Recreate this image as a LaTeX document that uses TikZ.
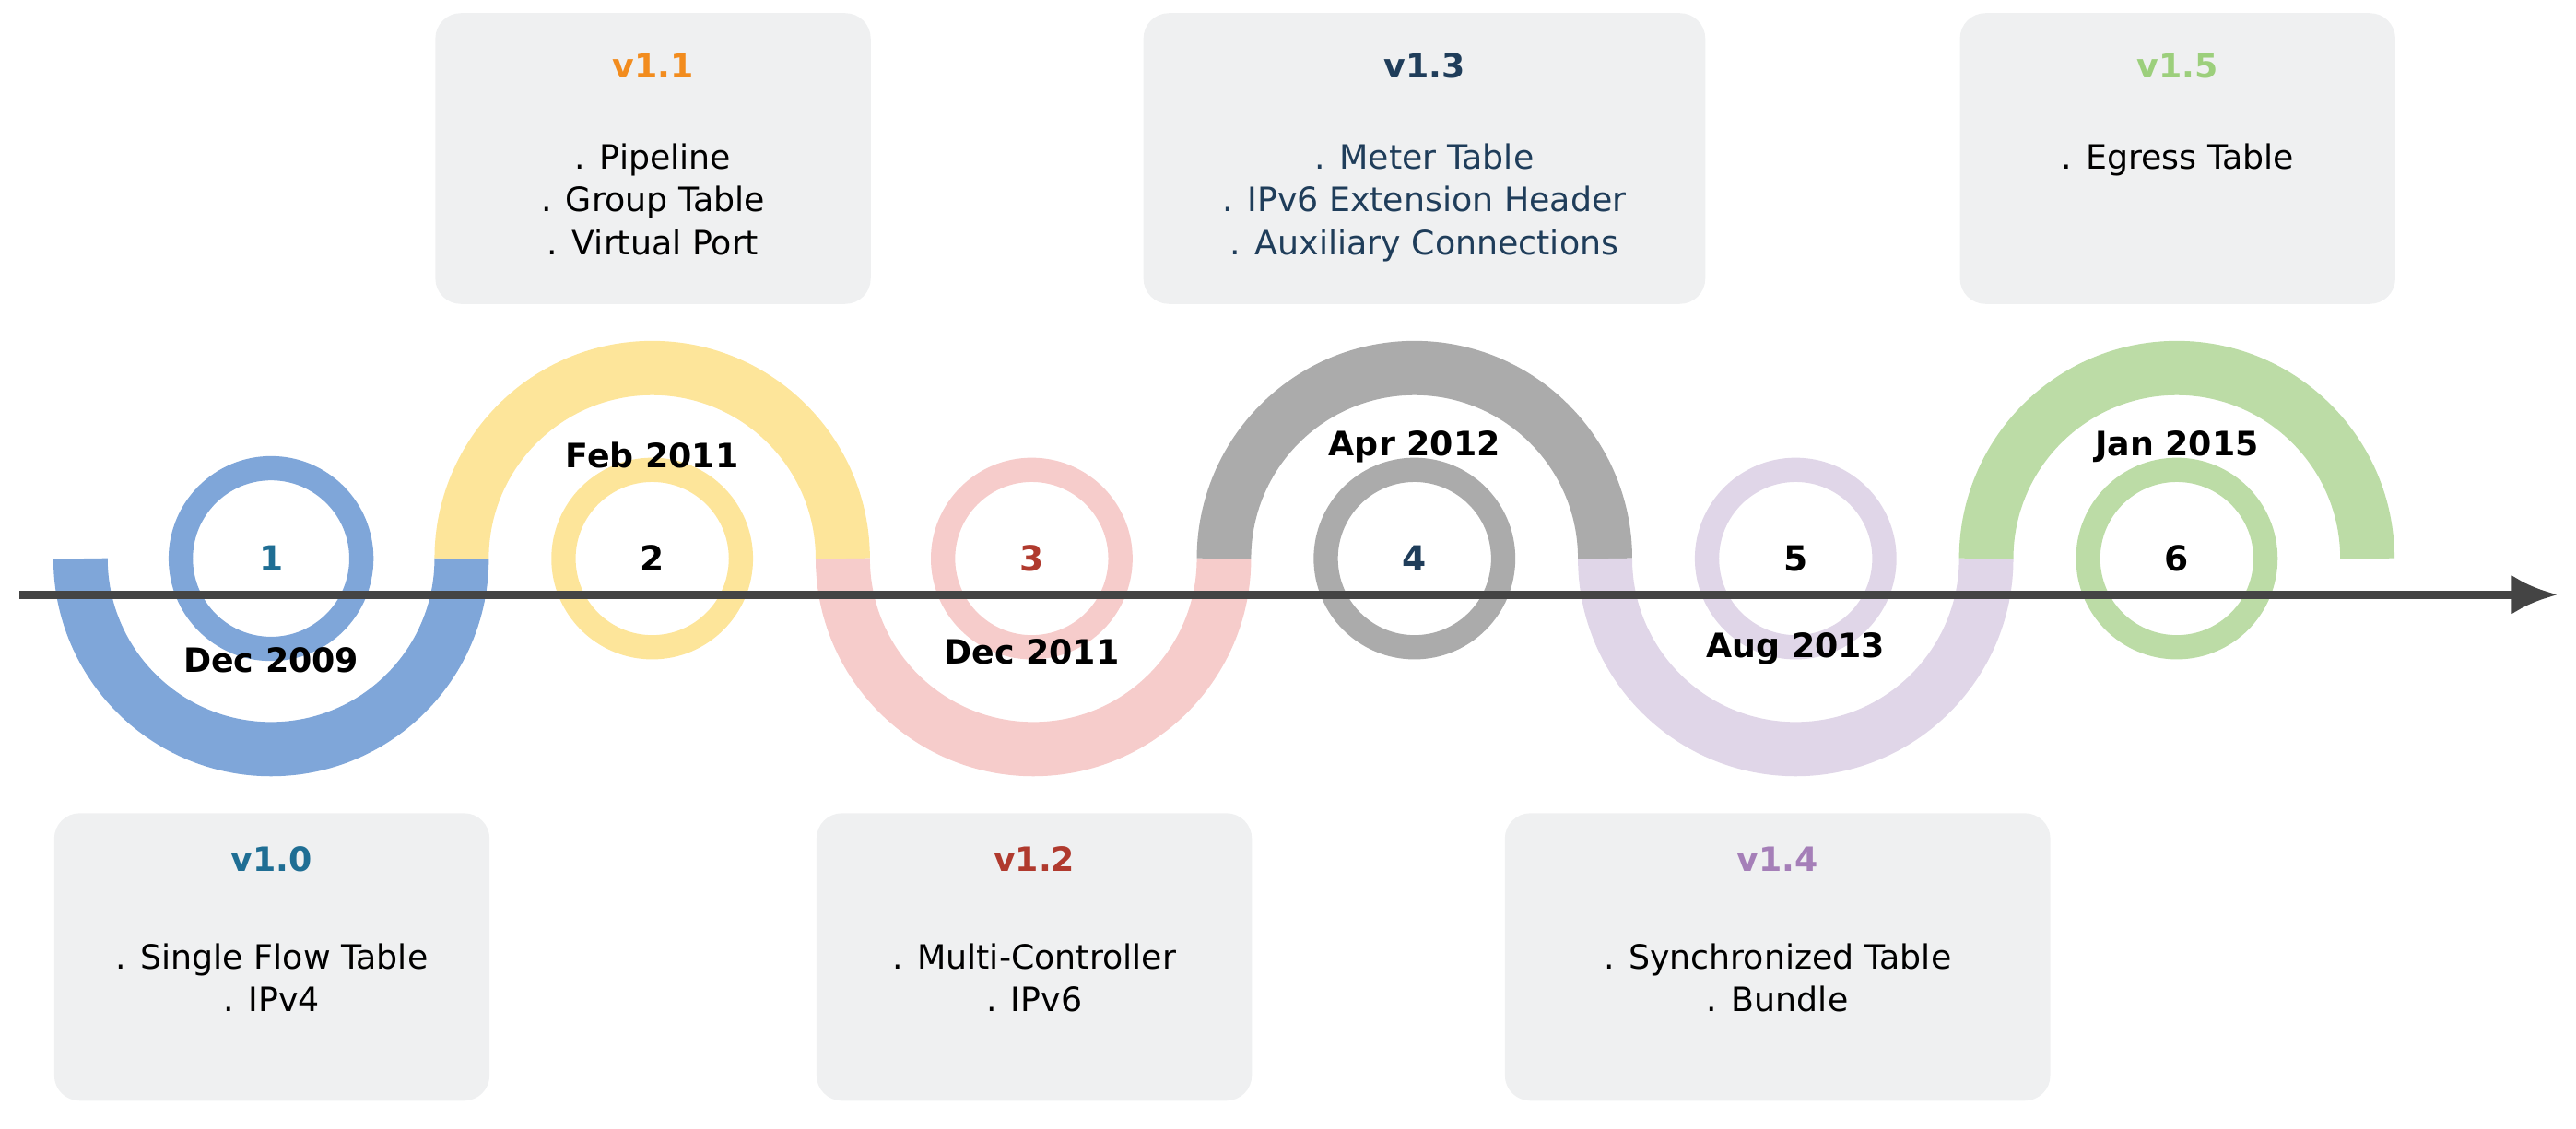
\documentclass[tikz,border=0pt]{standalone}
\usepackage{fontspec}
\setmainfont{DejaVu Sans}
\usetikzlibrary{arrows.meta}
\definecolor{cb}{HTML}{7FA6D9}\definecolor{cy}{HTML}{FDE59A}\definecolor{cp}{HTML}{F6CCCB}
\definecolor{cg}{HTML}{ABABAB}\definecolor{cl}{HTML}{E0D6E8}\definecolor{cgr}{HTML}{BCDCA6}
\definecolor{tb}{HTML}{1F6E94}\definecolor{to}{HTML}{F28C1E}\definecolor{tr}{HTML}{B03A2E}
\definecolor{tn}{HTML}{1F3D5A}\definecolor{tv}{HTML}{A57FB8}\definecolor{tg}{HTML}{9CCF7C}
\definecolor{boxf}{HTML}{EFF0F1}\definecolor{ax}{HTML}{444444}
\begin{document}
\begin{tikzpicture}[x=0.05cm,y=0.05cm,
 band/.style={line width=47pt},
 ring/.style={line width=21pt},
 box/.style={fill=boxf,rounded corners=22pt},
 txt/.style={font=\fontsize{29}{37}\selectfont,align=center,anchor=north},
 ttl/.style={font=\fontsize{29}{37}\selectfont\bfseries,anchor=center},
 date/.style={font=\fontsize{29}{37}\selectfont\bfseries},
 num/.style={font=\fontsize{30}{36}\selectfont\bfseries}]
\useasboundingbox (0,0) rectangle (1568,687);
% boxes (y' = 687 - y)
\fill[box] (33,192) rectangle (298,17);
\fill[box] (265,679) rectangle (530,502);
\fill[box] (497,192) rectangle (762,17);
\fill[box] (696,679) rectangle (1038,502);
\fill[box] (916,192) rectangle (1248,17);
\fill[box] (1193,679) rectangle (1458,502);
% rings
\draw[ring,cb] (165,347) circle (55);
\draw[ring,cy] (397,347) circle (54);
\draw[ring,cp] (628,347) circle (54);
\draw[ring,cg] (861,347) circle (54);
\draw[ring,cl] (1093,347) circle (54);
\draw[ring,cgr] (1325,347) circle (54);
% bands
\draw[band,cb] (49,347) arc (180:360:116);
\draw[band,cy] (281,347) arc (180:0:116);
\draw[band,cp] (513,347) arc (180:360:116);
\draw[band,cg] (745,347) arc (180:0:116);
\draw[band,cl] (977,347) arc (180:360:116);
\draw[band,cgr] (1209,347) arc (180:0:116);
% axis
\coordinate (a0) at (12,325); \coordinate (a1) at (1557,325);
\draw[ax,line width=7pt,-{Latex[length=40pt,width=34pt]}] (a0) -- (a1);
% numbers
\node[num,text=tb] (n1) at (165,347) {1};
\node[num] (n2) at (397,347) {2};
\node[num,text=tr] (n3) at (628,347) {3};
\node[num,text=tn] (n4) at (861,347) {4};
\node[num] (n5) at (1093,347) {5};
\node[num] (n6) at (1325,347) {6};
% dates
\node[date] (d1) at (165,285) {Dec 2009};
\node[date] (d2) at (397,410) {Feb 2011};
\node[date] (d3) at (628,290) {Dec 2011};
\node[date] (d4) at (861,415) {Apr 2012};
\node[date] (d5) at (1093,292) {Aug 2013};
\node[date] (d6) at (1325,415) {Jan 2015};
% titles & items
\node[ttl,text=tb] (t0) at (165.5,164) {v1.0};
\node[txt] (i0) at (165.5,115) {. Single Flow Table\\. IPv4};
\node[ttl,text=to] (t1) at (397.5,647) {v1.1};
\node[txt] (i1) at (397.5,602) {. Pipeline\\. Group Table\\. Virtual Port};
\node[ttl,text=tr] (t2) at (629.5,164) {v1.2};
\node[txt] (i2) at (629.5,115) {. Multi-Controller\\. IPv6};
\node[ttl,text=tn] (t3) at (867,647) {v1.3};
\node[txt,text=tn] (i3) at (867,602) {. Meter Table\\. IPv6 Extension Header\\. Auxiliary Connections};
\node[ttl,text=tv] (t4) at (1082,164) {v1.4};
\node[txt] (i4) at (1082,115) {. Synchronized Table\\. Bundle};
\node[ttl,text=tg] (t5) at (1325.5,647) {v1.5};
\node[txt] (i5) at (1325.5,602) {. Egress Table};
\end{tikzpicture}
\end{document}
